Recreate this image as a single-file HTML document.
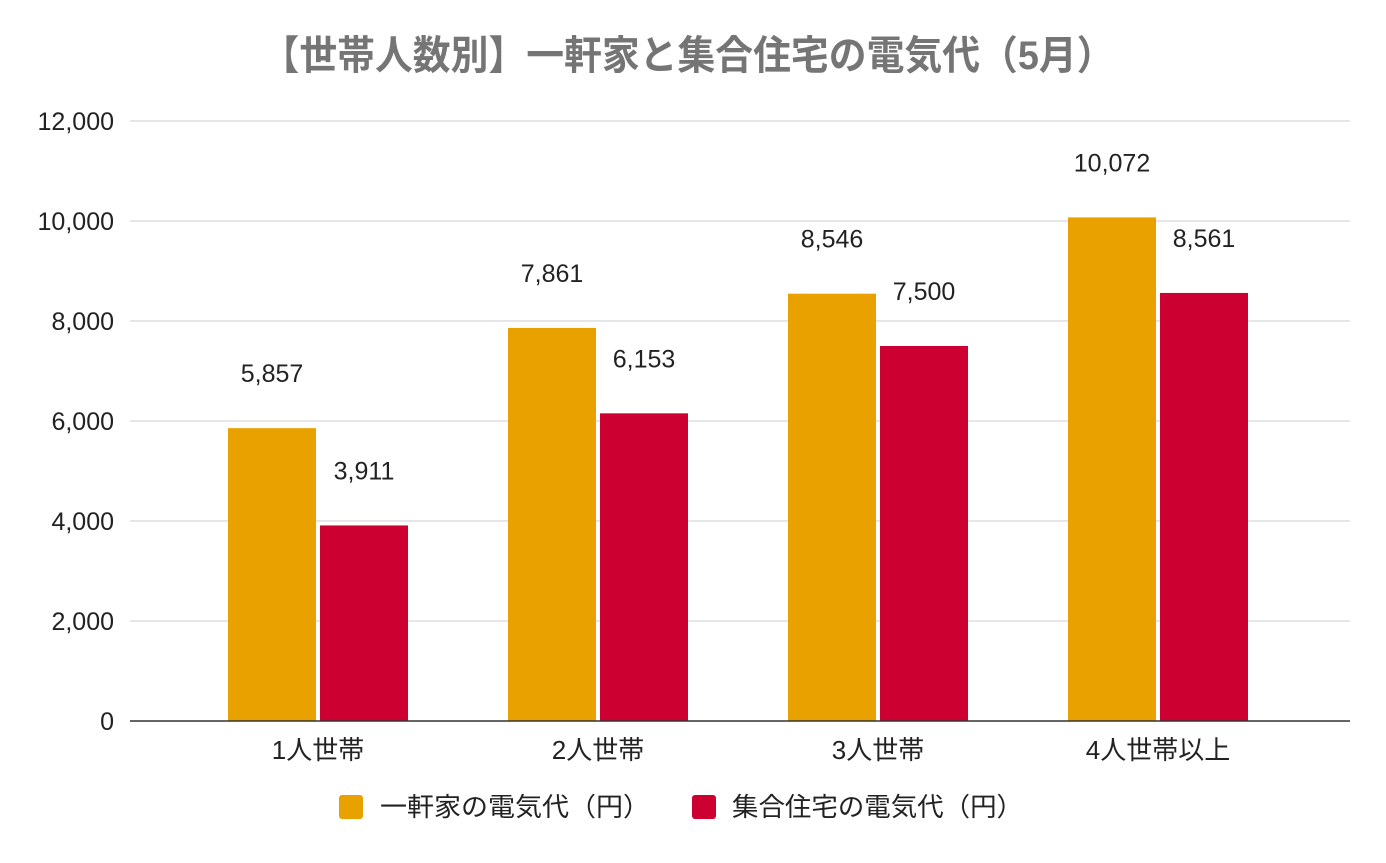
<!DOCTYPE html>
<html><head><meta charset="utf-8"><style>
html,body{margin:0;padding:0;background:#fff}
svg text{font-family:"Liberation Sans","Noto Sans CJK JP",sans-serif}
</style></head><body>
<svg id="chart" width="1386" height="858">
<text x="688" y="69" text-anchor="middle" font-size="40" font-weight="bold" fill="#757575" textLength="853" lengthAdjust="spacingAndGlyphs">【世帯人数別】一軒家と集合住宅の電気代（5月）</text>
<g id="grid"></g><g id="bars"></g><g id="labels"></g>
<g>
<rect x="339" y="795" width="24" height="24" rx="3" fill="#E9A100"/>
<text x="380" y="816" font-size="26" fill="#222" textLength="270" lengthAdjust="spacingAndGlyphs">一軒家の電気代（円）</text>
<rect x="692" y="795" width="24" height="24" rx="3" fill="#CC0031"/>
<text x="732" y="816" font-size="26" fill="#222" textLength="291" lengthAdjust="spacingAndGlyphs">集合住宅の電気代（円）</text>
</g>
</svg>
<script>
const categories=["1人世帯","2人世帯","3人世帯","4人世帯以上"];
const houseValues=[5857,7861,8546,10072];
const aptValues=[3911,6153,7500,8561];
const yTicks=[0,2000,4000,6000,8000,10000,12000];
const NS="http://www.w3.org/2000/svg";
const y=v=>721-v*0.05;
const cx=i=>318+280*i;
function mk(t,a,p,txt){const e=document.createElementNS(NS,t);for(const k in a)e.setAttribute(k,a[k]);if(txt!=null)e.textContent=txt;p.appendChild(e);return e;}
const grid=document.getElementById('grid'),bars=document.getElementById('bars'),labels=document.getElementById('labels');
yTicks.forEach(t=>{
 const l=mk('line',{x1:130,x2:1350,y1:y(t),y2:y(t),stroke:'#ccc','stroke-width':1},grid);
 
 
 const tx=mk('text',{x:114,y:y(t)+9,'text-anchor':'end','font-size':25,fill:'#222'},grid,t.toLocaleString('en-US'));
 
 
});
categories.forEach((c,i)=>{
 const h=houseValues[i],a=aptValues[i];
 const b1=mk('rect',{x:cx(i)-90,y:y(h),width:88,height:721-y(h),fill:'#E9A100'},bars);
 
 
 const b2=mk('rect',{x:cx(i)+2,y:y(a),width:88,height:721-y(a),fill:'#CC0031'},bars);
 
 
 const v1=mk('text',{x:cx(i)-46,y:y(h)-46,'text-anchor':'middle','font-size':25,fill:'#222'},labels,h.toLocaleString('en-US'));
 
 
 const v2=mk('text',{x:cx(i)+46,y:y(a)-46,'text-anchor':'middle','font-size':25,fill:'#222'},labels,a.toLocaleString('en-US'));
 
 
 const xl=mk('text',{x:cx(i),y:759,'text-anchor':'middle','font-size':26,fill:'#222'},labels,c);
 
 
});
const bl=mk('line',{x1:130,x2:1350,y1:721,y2:721,stroke:'#333','stroke-width':1.5},bars);


</script>
</body></html>
